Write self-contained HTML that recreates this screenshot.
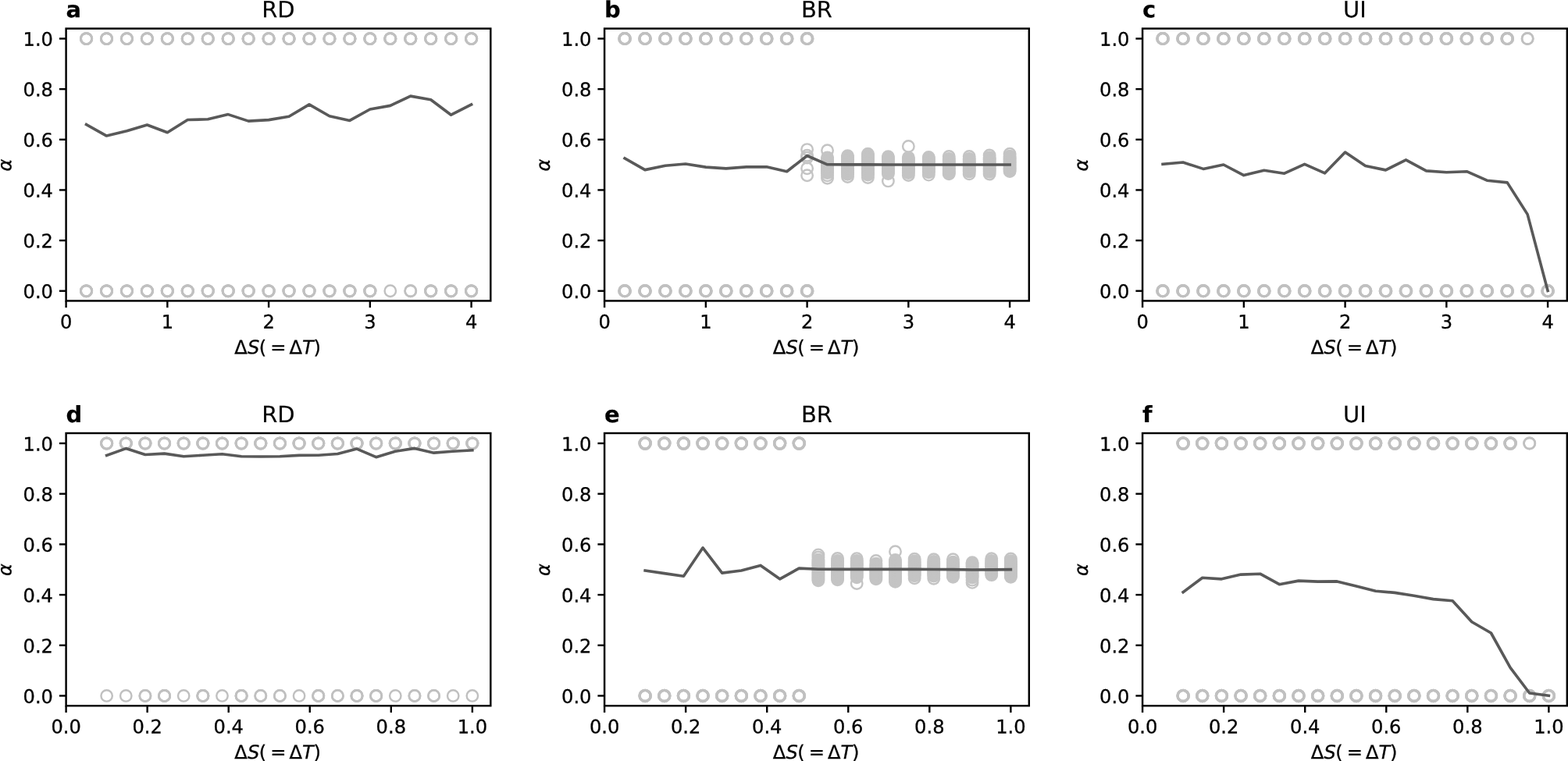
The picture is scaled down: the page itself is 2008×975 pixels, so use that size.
<!DOCTYPE html>
<html lang="en"><head><meta charset="utf-8"><title>Figure</title>
<style>html,body{margin:0;padding:0;background:#fff;}body{width:2008px;height:975px;overflow:hidden;}svg{display:block;}text{font-family:"DejaVu Sans","Liberation Sans",sans-serif;fill:#000;}.t{font-size:24.167px;}.tl{stroke:#000;stroke-width:0.3px;}.tt{font-size:29.000px;stroke:#000;stroke-width:0.15px;}.b{font-weight:bold;}.i{font-style:italic;}.sp{fill:none;stroke:#000;stroke-width:2.450;stroke-linecap:square;}.tk{stroke:#000;stroke-width:2.400;fill:none;}.ln{fill:none;stroke:#595959;stroke-width:3.625;stroke-linecap:square;stroke-linejoin:round;}.m circle{fill:none;stroke:#c0c0c0;}.c circle{fill:none;stroke:#c4c4c4;stroke-width:2.417;}</style></head><body>
<svg width="2008" height="975" viewBox="0 0 2008 975" role="img" aria-label="Six-panel figure: alpha versus Delta S for RD, BR and UI">
<rect x="0" y="0" width="2008" height="975" fill="#fff"/>
<g id="panel-a">
<g class="m" stroke-width="2.95">
<circle cx="110.55" cy="49.5" r="7.1"/><circle cx="136.5" cy="49.5" r="7.1"/><circle cx="162.45" cy="49.5" r="7.1"/><circle cx="188.4" cy="49.5" r="7.1"/><circle cx="214.35" cy="49.5" r="7.1"/><circle cx="240.3" cy="49.5" r="7.1"/><circle cx="266.25" cy="49.5" r="7.1"/><circle cx="292.2" cy="49.5" r="7.1"/><circle cx="318.15" cy="49.5" r="7.1"/><circle cx="344.1" cy="49.5" r="7.1"/><circle cx="370.05" cy="49.5" r="7.1"/><circle cx="396" cy="49.5" r="7.1"/><circle cx="421.95" cy="49.5" r="7.1"/><circle cx="447.9" cy="49.5" r="7.1"/><circle cx="473.85" cy="49.5" r="7.1"/><circle cx="499.8" cy="49.5" r="7.1"/><circle cx="525.75" cy="49.5" r="7.1"/><circle cx="551.7" cy="49.5" r="7.1"/><circle cx="577.65" cy="49.5" r="7.1"/><circle cx="603.6" cy="49.5" r="7.1"/>
<circle cx="110.55" cy="49.5" r="7.1"/><circle cx="136.5" cy="49.5" r="7.1"/><circle cx="162.45" cy="49.5" r="7.1"/><circle cx="188.4" cy="49.5" r="7.1"/><circle cx="214.35" cy="49.5" r="7.1"/><circle cx="240.3" cy="49.5" r="7.1"/><circle cx="266.25" cy="49.5" r="7.1"/><circle cx="292.2" cy="49.5" r="7.1"/><circle cx="318.15" cy="49.5" r="7.1"/><circle cx="344.1" cy="49.5" r="7.1"/><circle cx="370.05" cy="49.5" r="7.1"/><circle cx="396" cy="49.5" r="7.1"/><circle cx="421.95" cy="49.5" r="7.1"/><circle cx="447.9" cy="49.5" r="7.1"/><circle cx="473.85" cy="49.5" r="7.1"/><circle cx="499.8" cy="49.5" r="7.1"/><circle cx="525.75" cy="49.5" r="7.1"/><circle cx="551.7" cy="49.5" r="7.1"/><circle cx="577.65" cy="49.5" r="7.1"/><circle cx="603.6" cy="49.5" r="7.1"/>
<circle cx="110.55" cy="49.5" r="7.1"/><circle cx="136.5" cy="49.5" r="7.1"/><circle cx="162.45" cy="49.5" r="7.1"/><circle cx="188.4" cy="49.5" r="7.1"/><circle cx="214.35" cy="49.5" r="7.1"/><circle cx="240.3" cy="49.5" r="7.1"/><circle cx="266.25" cy="49.5" r="7.1"/><circle cx="292.2" cy="49.5" r="7.1"/><circle cx="318.15" cy="49.5" r="7.1"/><circle cx="344.1" cy="49.5" r="7.1"/><circle cx="370.05" cy="49.5" r="7.1"/><circle cx="396" cy="49.5" r="7.1"/><circle cx="421.95" cy="49.5" r="7.1"/><circle cx="447.9" cy="49.5" r="7.1"/><circle cx="473.85" cy="49.5" r="7.1"/><circle cx="499.8" cy="49.5" r="7.1"/><circle cx="525.75" cy="49.5" r="7.1"/><circle cx="551.7" cy="49.5" r="7.1"/><circle cx="577.65" cy="49.5" r="7.1"/><circle cx="603.6" cy="49.5" r="7.1"/>
</g>
<g class="m" stroke-width="2.42">
<circle cx="499.8" cy="372.75" r="7.2"/>
</g>
<g class="m" stroke-width="2.6">
<circle cx="525.75" cy="372.75" r="7.15"/>
<circle cx="525.75" cy="372.75" r="7.15"/>
</g>
<g class="m" stroke-width="2.95">
<circle cx="110.55" cy="372.75" r="7.1"/><circle cx="136.5" cy="372.75" r="7.1"/><circle cx="162.45" cy="372.75" r="7.1"/><circle cx="188.4" cy="372.75" r="7.1"/><circle cx="214.35" cy="372.75" r="7.1"/><circle cx="240.3" cy="372.75" r="7.1"/><circle cx="266.25" cy="372.75" r="7.1"/><circle cx="292.2" cy="372.75" r="7.1"/><circle cx="318.15" cy="372.75" r="7.1"/><circle cx="344.1" cy="372.75" r="7.1"/><circle cx="370.05" cy="372.75" r="7.1"/><circle cx="396" cy="372.75" r="7.1"/><circle cx="421.95" cy="372.75" r="7.1"/><circle cx="447.9" cy="372.75" r="7.1"/><circle cx="473.85" cy="372.75" r="7.1"/><circle cx="551.7" cy="372.75" r="7.1"/><circle cx="577.65" cy="372.75" r="7.1"/><circle cx="603.6" cy="372.75" r="7.1"/>
<circle cx="110.55" cy="372.75" r="7.1"/><circle cx="136.5" cy="372.75" r="7.1"/><circle cx="162.45" cy="372.75" r="7.1"/><circle cx="188.4" cy="372.75" r="7.1"/><circle cx="214.35" cy="372.75" r="7.1"/><circle cx="240.3" cy="372.75" r="7.1"/><circle cx="266.25" cy="372.75" r="7.1"/><circle cx="292.2" cy="372.75" r="7.1"/><circle cx="318.15" cy="372.75" r="7.1"/><circle cx="344.1" cy="372.75" r="7.1"/><circle cx="370.05" cy="372.75" r="7.1"/><circle cx="396" cy="372.75" r="7.1"/><circle cx="421.95" cy="372.75" r="7.1"/><circle cx="447.9" cy="372.75" r="7.1"/><circle cx="473.85" cy="372.75" r="7.1"/><circle cx="551.7" cy="372.75" r="7.1"/><circle cx="577.65" cy="372.75" r="7.1"/><circle cx="603.6" cy="372.75" r="7.1"/>
<circle cx="110.55" cy="372.75" r="7.1"/><circle cx="136.5" cy="372.75" r="7.1"/><circle cx="162.45" cy="372.75" r="7.1"/><circle cx="188.4" cy="372.75" r="7.1"/><circle cx="214.35" cy="372.75" r="7.1"/><circle cx="240.3" cy="372.75" r="7.1"/><circle cx="266.25" cy="372.75" r="7.1"/><circle cx="292.2" cy="372.75" r="7.1"/><circle cx="318.15" cy="372.75" r="7.1"/><circle cx="344.1" cy="372.75" r="7.1"/><circle cx="370.05" cy="372.75" r="7.1"/><circle cx="396" cy="372.75" r="7.1"/><circle cx="421.95" cy="372.75" r="7.1"/><circle cx="447.9" cy="372.75" r="7.1"/><circle cx="473.85" cy="372.75" r="7.1"/><circle cx="551.7" cy="372.75" r="7.1"/><circle cx="577.65" cy="372.75" r="7.1"/><circle cx="603.6" cy="372.75" r="7.1"/>
</g>
<polyline class="ln" points="110.55,159.5 136.5,174.05 162.45,167.7 188.4,160 214.35,169.7 240.3,153.5 266.25,152.8 292.2,146.6 318.15,155.1 344.1,153.6 370.05,149.3 396,133.9 421.95,148.7 447.9,154.4 473.85,140 499.8,135.4 525.75,123.1 551.7,127.7 577.65,147.2 603.6,133.85"/>
<g class="tk">
<line x1="84.6" y1="385.45" x2="84.6" y2="394.15"/><line x1="214.35" y1="385.45" x2="214.35" y2="394.15"/><line x1="344.1" y1="385.45" x2="344.1" y2="394.15"/><line x1="473.85" y1="385.45" x2="473.85" y2="394.15"/><line x1="603.6" y1="385.45" x2="603.6" y2="394.15"/>
<line x1="84.6" y1="372.75" x2="75.9" y2="372.75"/><line x1="84.6" y1="308.1" x2="75.9" y2="308.1"/><line x1="84.6" y1="243.45" x2="75.9" y2="243.45"/><line x1="84.6" y1="178.8" x2="75.9" y2="178.8"/><line x1="84.6" y1="114.15" x2="75.9" y2="114.15"/><line x1="84.6" y1="49.5" x2="75.9" y2="49.5"/>
</g>
<rect class="sp" x="84.6" y="36.6" width="543.7" height="348.85"/>
<text class="t tl" transform="matrix(1 0.001 0 1 84.6 420.65)" text-anchor="middle">0</text>
<text class="t tl" transform="matrix(1 0.001 0 1 214.35 420.65)" text-anchor="middle">1</text>
<text class="t tl" transform="matrix(1 0.001 0 1 344.1 420.65)" text-anchor="middle">2</text>
<text class="t tl" transform="matrix(1 0.001 0 1 473.85 420.65)" text-anchor="middle">3</text>
<text class="t tl" transform="matrix(1 0.001 0 1 603.6 420.65)" text-anchor="middle">4</text>
<text class="t tl" transform="matrix(1 0.001 0 1 67.98 381.95)" text-anchor="end">0.0</text>
<text class="t tl" transform="matrix(1 0.001 0 1 67.98 317.3)" text-anchor="end">0.2</text>
<text class="t tl" transform="matrix(1 0.001 0 1 67.98 252.65)" text-anchor="end">0.4</text>
<text class="t tl" transform="matrix(1 0.001 0 1 67.98 188)" text-anchor="end">0.6</text>
<text class="t tl" transform="matrix(1 0.001 0 1 67.98 123.35)" text-anchor="end">0.8</text>
<text class="t tl" transform="matrix(1 0.001 0 1 67.98 58.7)" text-anchor="end">1.0</text>
<text class="tt" transform="matrix(1 0.001 0 1 356.45 22.15)" text-anchor="middle">RD</text>
<text class="tt b" transform="matrix(1 0.001 0 1 84.6 22.15)">a</text>
<text class="t tl" transform="matrix(1 0.001 0 1 356.45 453.25)"><tspan x="-56.25">Δ</tspan><tspan x="-39.55" class="i">S</tspan><tspan x="-24.65">(</tspan><tspan x="-10.25">=</tspan><tspan x="13.95">Δ</tspan><tspan x="30.55" class="i">T</tspan><tspan x="44.95">)</tspan></text>
<text class="t i tl" transform="matrix(0.001 -1 1 0 14.4 211.53)" text-anchor="middle">α</text>
</g>
<g id="panel-b">
<g class="m" stroke-width="2.9">
<circle cx="799.7" cy="49.5" r="7.05"/><circle cx="825.65" cy="49.5" r="7.05"/><circle cx="851.6" cy="49.5" r="7.05"/><circle cx="877.55" cy="49.5" r="7.05"/><circle cx="903.5" cy="49.5" r="7.05"/><circle cx="929.45" cy="49.5" r="7.05"/><circle cx="955.4" cy="49.5" r="7.05"/><circle cx="981.35" cy="49.5" r="7.05"/><circle cx="1007.3" cy="49.5" r="7.05"/><circle cx="1033.25" cy="49.5" r="7.05"/>
<circle cx="800.4" cy="49.5" r="7.05"/><circle cx="826.35" cy="49.5" r="7.05"/><circle cx="852.3" cy="49.5" r="7.05"/><circle cx="878.25" cy="49.5" r="7.05"/><circle cx="904.2" cy="49.5" r="7.05"/><circle cx="930.15" cy="49.5" r="7.05"/><circle cx="956.1" cy="49.5" r="7.05"/><circle cx="982.05" cy="49.5" r="7.05"/><circle cx="1008" cy="49.5" r="7.05"/><circle cx="1033.95" cy="49.5" r="7.05"/>
<circle cx="799.7" cy="49.5" r="7.05"/><circle cx="825.65" cy="49.5" r="7.05"/><circle cx="851.6" cy="49.5" r="7.05"/><circle cx="877.55" cy="49.5" r="7.05"/><circle cx="903.5" cy="49.5" r="7.05"/><circle cx="929.45" cy="49.5" r="7.05"/><circle cx="955.4" cy="49.5" r="7.05"/><circle cx="981.35" cy="49.5" r="7.05"/><circle cx="1007.3" cy="49.5" r="7.05"/><circle cx="1033.25" cy="49.5" r="7.05"/>
<circle cx="800.4" cy="49.5" r="7.05"/><circle cx="826.35" cy="49.5" r="7.05"/><circle cx="852.3" cy="49.5" r="7.05"/><circle cx="878.25" cy="49.5" r="7.05"/><circle cx="904.2" cy="49.5" r="7.05"/><circle cx="930.15" cy="49.5" r="7.05"/><circle cx="956.1" cy="49.5" r="7.05"/><circle cx="982.05" cy="49.5" r="7.05"/><circle cx="1008" cy="49.5" r="7.05"/><circle cx="1033.95" cy="49.5" r="7.05"/>
</g>
<g class="m" stroke-width="2.9">
<circle cx="799.7" cy="372.75" r="7.05"/><circle cx="825.65" cy="372.75" r="7.05"/><circle cx="851.6" cy="372.75" r="7.05"/><circle cx="877.55" cy="372.75" r="7.05"/><circle cx="903.5" cy="372.75" r="7.05"/><circle cx="929.45" cy="372.75" r="7.05"/><circle cx="955.4" cy="372.75" r="7.05"/><circle cx="981.35" cy="372.75" r="7.05"/><circle cx="1007.3" cy="372.75" r="7.05"/><circle cx="1033.25" cy="372.75" r="7.05"/>
<circle cx="800.4" cy="372.75" r="7.05"/><circle cx="826.35" cy="372.75" r="7.05"/><circle cx="852.3" cy="372.75" r="7.05"/><circle cx="878.25" cy="372.75" r="7.05"/><circle cx="904.2" cy="372.75" r="7.05"/><circle cx="930.15" cy="372.75" r="7.05"/><circle cx="956.1" cy="372.75" r="7.05"/><circle cx="982.05" cy="372.75" r="7.05"/><circle cx="1008" cy="372.75" r="7.05"/><circle cx="1033.95" cy="372.75" r="7.05"/>
<circle cx="799.7" cy="372.75" r="7.05"/><circle cx="825.65" cy="372.75" r="7.05"/><circle cx="851.6" cy="372.75" r="7.05"/><circle cx="877.55" cy="372.75" r="7.05"/><circle cx="903.5" cy="372.75" r="7.05"/><circle cx="929.45" cy="372.75" r="7.05"/><circle cx="955.4" cy="372.75" r="7.05"/><circle cx="981.35" cy="372.75" r="7.05"/><circle cx="1007.3" cy="372.75" r="7.05"/><circle cx="1033.25" cy="372.75" r="7.05"/>
<circle cx="800.4" cy="372.75" r="7.05"/><circle cx="826.35" cy="372.75" r="7.05"/><circle cx="852.3" cy="372.75" r="7.05"/><circle cx="878.25" cy="372.75" r="7.05"/><circle cx="904.2" cy="372.75" r="7.05"/><circle cx="930.15" cy="372.75" r="7.05"/><circle cx="956.1" cy="372.75" r="7.05"/><circle cx="982.05" cy="372.75" r="7.05"/><circle cx="1008" cy="372.75" r="7.05"/><circle cx="1033.95" cy="372.75" r="7.05"/>
</g>
<g class="c">
<circle cx="1033.6" cy="191.6" r="7.25"/><circle cx="1033.6" cy="199.16" r="7.25"/><circle cx="1033.6" cy="202.07" r="7.25"/><circle cx="1033.6" cy="215.81" r="7.25"/><circle cx="1033.6" cy="224.7" r="7.25"/>
<circle cx="1059.55" cy="192.7" r="7.25"/><circle cx="1059.55" cy="228.26" r="7.25"/><circle cx="1059.55" cy="224.86" r="7.25"/><circle cx="1059.55" cy="221.63" r="7.25"/><circle cx="1059.55" cy="219.98" r="7.25"/><circle cx="1059.55" cy="218.33" r="7.25"/><circle cx="1059.55" cy="216.68" r="7.25"/><circle cx="1059.55" cy="215.04" r="7.25"/><circle cx="1059.55" cy="213.39" r="7.25"/><circle cx="1059.55" cy="211.74" r="7.25"/><circle cx="1059.55" cy="210.09" r="7.25"/><circle cx="1059.55" cy="208.44" r="7.25"/><circle cx="1059.55" cy="206.79" r="7.25"/><circle cx="1059.55" cy="205.14" r="7.25"/><circle cx="1059.55" cy="203.5" r="7.25"/><circle cx="1059.55" cy="201.85" r="7.25"/>
<circle cx="1085.5" cy="226.54" r="7.25"/><circle cx="1085.5" cy="223.25" r="7.25"/><circle cx="1085.5" cy="221.56" r="7.25"/><circle cx="1085.5" cy="219.87" r="7.25"/><circle cx="1085.5" cy="218.18" r="7.25"/><circle cx="1085.5" cy="216.5" r="7.25"/><circle cx="1085.5" cy="214.81" r="7.25"/><circle cx="1085.5" cy="213.12" r="7.25"/><circle cx="1085.5" cy="211.43" r="7.25"/><circle cx="1085.5" cy="209.74" r="7.25"/><circle cx="1085.5" cy="208.06" r="7.25"/><circle cx="1085.5" cy="206.37" r="7.25"/><circle cx="1085.5" cy="204.68" r="7.25"/><circle cx="1085.5" cy="202.99" r="7.25"/><circle cx="1085.5" cy="201.31" r="7.25"/><circle cx="1085.5" cy="199.62" r="7.25"/>
<circle cx="1111.45" cy="227.42" r="7.25"/><circle cx="1111.45" cy="224.06" r="7.25"/><circle cx="1111.45" cy="222.38" r="7.25"/><circle cx="1111.45" cy="220.71" r="7.25"/><circle cx="1111.45" cy="219.04" r="7.25"/><circle cx="1111.45" cy="217.37" r="7.25"/><circle cx="1111.45" cy="215.7" r="7.25"/><circle cx="1111.45" cy="214.03" r="7.25"/><circle cx="1111.45" cy="212.36" r="7.25"/><circle cx="1111.45" cy="210.69" r="7.25"/><circle cx="1111.45" cy="209.02" r="7.25"/><circle cx="1111.45" cy="207.35" r="7.25"/><circle cx="1111.45" cy="205.68" r="7.25"/><circle cx="1111.45" cy="204.01" r="7.25"/><circle cx="1111.45" cy="202.33" r="7.25"/><circle cx="1111.45" cy="200.66" r="7.25"/><circle cx="1111.45" cy="198.99" r="7.25"/><circle cx="1111.45" cy="197.32" r="7.25"/>
<circle cx="1137.4" cy="231.91" r="7.25"/><circle cx="1137.4" cy="222.44" r="7.25"/><circle cx="1137.4" cy="220.76" r="7.25"/><circle cx="1137.4" cy="219.08" r="7.25"/><circle cx="1137.4" cy="217.4" r="7.25"/><circle cx="1137.4" cy="215.73" r="7.25"/><circle cx="1137.4" cy="214.05" r="7.25"/><circle cx="1137.4" cy="212.37" r="7.25"/><circle cx="1137.4" cy="210.69" r="7.25"/><circle cx="1137.4" cy="209.01" r="7.25"/><circle cx="1137.4" cy="207.33" r="7.25"/><circle cx="1137.4" cy="205.65" r="7.25"/><circle cx="1137.4" cy="203.98" r="7.25"/><circle cx="1137.4" cy="202.3" r="7.25"/><circle cx="1137.4" cy="200.62" r="7.25"/>
<circle cx="1163.35" cy="187.53" r="7.25"/><circle cx="1163.35" cy="224.54" r="7.25"/><circle cx="1163.35" cy="221.63" r="7.25"/><circle cx="1163.35" cy="219.98" r="7.25"/><circle cx="1163.35" cy="218.33" r="7.25"/><circle cx="1163.35" cy="216.68" r="7.25"/><circle cx="1163.35" cy="215.04" r="7.25"/><circle cx="1163.35" cy="213.39" r="7.25"/><circle cx="1163.35" cy="211.74" r="7.25"/><circle cx="1163.35" cy="210.09" r="7.25"/><circle cx="1163.35" cy="208.44" r="7.25"/><circle cx="1163.35" cy="206.79" r="7.25"/><circle cx="1163.35" cy="205.14" r="7.25"/><circle cx="1163.35" cy="203.5" r="7.25"/><circle cx="1163.35" cy="201.85" r="7.25"/>
<circle cx="1189.3" cy="224.12" r="7.25"/><circle cx="1189.3" cy="220.82" r="7.25"/><circle cx="1189.3" cy="219.21" r="7.25"/><circle cx="1189.3" cy="217.59" r="7.25"/><circle cx="1189.3" cy="215.97" r="7.25"/><circle cx="1189.3" cy="214.36" r="7.25"/><circle cx="1189.3" cy="212.74" r="7.25"/><circle cx="1189.3" cy="211.12" r="7.25"/><circle cx="1189.3" cy="209.51" r="7.25"/><circle cx="1189.3" cy="207.89" r="7.25"/><circle cx="1189.3" cy="206.28" r="7.25"/><circle cx="1189.3" cy="204.66" r="7.25"/><circle cx="1189.3" cy="203.04" r="7.25"/><circle cx="1189.3" cy="201.43" r="7.25"/>
<circle cx="1215.25" cy="200.46" r="7.25"/><circle cx="1215.25" cy="222.89" r="7.25"/><circle cx="1215.25" cy="221.26" r="7.25"/><circle cx="1215.25" cy="219.64" r="7.25"/><circle cx="1215.25" cy="218.01" r="7.25"/><circle cx="1215.25" cy="216.38" r="7.25"/><circle cx="1215.25" cy="214.76" r="7.25"/><circle cx="1215.25" cy="213.13" r="7.25"/><circle cx="1215.25" cy="211.5" r="7.25"/><circle cx="1215.25" cy="209.88" r="7.25"/><circle cx="1215.25" cy="208.25" r="7.25"/><circle cx="1215.25" cy="206.62" r="7.25"/><circle cx="1215.25" cy="204.99" r="7.25"/><circle cx="1215.25" cy="203.37" r="7.25"/>
<circle cx="1241.2" cy="200.46" r="7.25"/><circle cx="1241.2" cy="222.89" r="7.25"/><circle cx="1241.2" cy="220.01" r="7.25"/><circle cx="1241.2" cy="218.35" r="7.25"/><circle cx="1241.2" cy="216.68" r="7.25"/><circle cx="1241.2" cy="215.02" r="7.25"/><circle cx="1241.2" cy="213.36" r="7.25"/><circle cx="1241.2" cy="211.69" r="7.25"/><circle cx="1241.2" cy="210.03" r="7.25"/><circle cx="1241.2" cy="208.36" r="7.25"/><circle cx="1241.2" cy="206.7" r="7.25"/><circle cx="1241.2" cy="205.03" r="7.25"/><circle cx="1241.2" cy="203.37" r="7.25"/>
<circle cx="1267.15" cy="199" r="7.25"/><circle cx="1267.15" cy="223.09" r="7.25"/><circle cx="1267.15" cy="220.18" r="7.25"/><circle cx="1267.15" cy="218.5" r="7.25"/><circle cx="1267.15" cy="216.83" r="7.25"/><circle cx="1267.15" cy="215.15" r="7.25"/><circle cx="1267.15" cy="213.48" r="7.25"/><circle cx="1267.15" cy="211.8" r="7.25"/><circle cx="1267.15" cy="210.13" r="7.25"/><circle cx="1267.15" cy="208.45" r="7.25"/><circle cx="1267.15" cy="206.78" r="7.25"/><circle cx="1267.15" cy="205.1" r="7.25"/><circle cx="1267.15" cy="203.43" r="7.25"/><circle cx="1267.15" cy="201.75" r="7.25"/>
<circle cx="1293.1" cy="197.32" r="7.25"/><circle cx="1293.1" cy="219.59" r="7.25"/><circle cx="1293.1" cy="217.97" r="7.25"/><circle cx="1293.1" cy="216.35" r="7.25"/><circle cx="1293.1" cy="214.73" r="7.25"/><circle cx="1293.1" cy="213.11" r="7.25"/><circle cx="1293.1" cy="211.49" r="7.25"/><circle cx="1293.1" cy="209.86" r="7.25"/><circle cx="1293.1" cy="208.24" r="7.25"/><circle cx="1293.1" cy="206.62" r="7.25"/><circle cx="1293.1" cy="205" r="7.25"/><circle cx="1293.1" cy="203.38" r="7.25"/><circle cx="1293.1" cy="201.76" r="7.25"/><circle cx="1293.1" cy="200.13" r="7.25"/>
</g>
<polyline class="ln" points="800.05,202.9 826,217.6 851.95,212.3 877.9,210.05 903.85,214.15 929.8,215.9 955.75,213.85 981.7,213.85 1007.65,219.7 1033.6,199.5 1059.55,210.8 1085.5,210.9 1111.45,210.9 1137.4,211 1163.35,211 1189.3,211 1215.25,211 1241.2,211 1267.15,211 1293.1,211"/>
<g class="tk">
<line x1="774.1" y1="385.45" x2="774.1" y2="394.15"/><line x1="903.85" y1="385.45" x2="903.85" y2="394.15"/><line x1="1033.6" y1="385.45" x2="1033.6" y2="394.15"/><line x1="1163.35" y1="385.45" x2="1163.35" y2="394.15"/><line x1="1293.1" y1="385.45" x2="1293.1" y2="394.15"/>
<line x1="774.1" y1="372.75" x2="765.4" y2="372.75"/><line x1="774.1" y1="308.1" x2="765.4" y2="308.1"/><line x1="774.1" y1="243.45" x2="765.4" y2="243.45"/><line x1="774.1" y1="178.8" x2="765.4" y2="178.8"/><line x1="774.1" y1="114.15" x2="765.4" y2="114.15"/><line x1="774.1" y1="49.5" x2="765.4" y2="49.5"/>
</g>
<rect class="sp" x="774.1" y="36.6" width="543.7" height="348.85"/>
<text class="t tl" transform="matrix(1 0.001 0 1 774.1 420.65)" text-anchor="middle">0</text>
<text class="t tl" transform="matrix(1 0.001 0 1 903.85 420.65)" text-anchor="middle">1</text>
<text class="t tl" transform="matrix(1 0.001 0 1 1033.6 420.65)" text-anchor="middle">2</text>
<text class="t tl" transform="matrix(1 0.001 0 1 1163.35 420.65)" text-anchor="middle">3</text>
<text class="t tl" transform="matrix(1 0.001 0 1 1293.1 420.65)" text-anchor="middle">4</text>
<text class="t tl" transform="matrix(1 0.001 0 1 757.48 381.95)" text-anchor="end">0.0</text>
<text class="t tl" transform="matrix(1 0.001 0 1 757.48 317.3)" text-anchor="end">0.2</text>
<text class="t tl" transform="matrix(1 0.001 0 1 757.48 252.65)" text-anchor="end">0.4</text>
<text class="t tl" transform="matrix(1 0.001 0 1 757.48 188)" text-anchor="end">0.6</text>
<text class="t tl" transform="matrix(1 0.001 0 1 757.48 123.35)" text-anchor="end">0.8</text>
<text class="t tl" transform="matrix(1 0.001 0 1 757.48 58.7)" text-anchor="end">1.0</text>
<text class="tt" transform="matrix(1 0.001 0 1 1045.95 22.15)" text-anchor="middle">BR</text>
<text class="tt b" transform="matrix(1 0.001 0 1 774.1 22.15)">b</text>
<text class="t tl" transform="matrix(1 0.001 0 1 1045.95 453.25)"><tspan x="-56.25">Δ</tspan><tspan x="-39.55" class="i">S</tspan><tspan x="-24.65">(</tspan><tspan x="-10.25">=</tspan><tspan x="13.95">Δ</tspan><tspan x="30.55" class="i">T</tspan><tspan x="44.95">)</tspan></text>
<text class="t i tl" transform="matrix(0.001 -1 1 0 703.9 211.53)" text-anchor="middle">α</text>
</g>
<g id="panel-c">
<g class="m" stroke-width="2.6">
<circle cx="1956.15" cy="49.5" r="7.15"/>
<circle cx="1956.15" cy="49.5" r="7.15"/>
</g>
<g class="m" stroke-width="2.9">
<circle cx="1488.7" cy="49.5" r="7.05"/><circle cx="1514.65" cy="49.5" r="7.05"/><circle cx="1540.6" cy="49.5" r="7.05"/><circle cx="1566.55" cy="49.5" r="7.05"/><circle cx="1592.5" cy="49.5" r="7.05"/><circle cx="1618.45" cy="49.5" r="7.05"/><circle cx="1644.4" cy="49.5" r="7.05"/><circle cx="1670.35" cy="49.5" r="7.05"/><circle cx="1696.3" cy="49.5" r="7.05"/><circle cx="1722.25" cy="49.5" r="7.05"/><circle cx="1748.2" cy="49.5" r="7.05"/><circle cx="1774.15" cy="49.5" r="7.05"/><circle cx="1800.1" cy="49.5" r="7.05"/><circle cx="1826.05" cy="49.5" r="7.05"/><circle cx="1852" cy="49.5" r="7.05"/><circle cx="1877.95" cy="49.5" r="7.05"/><circle cx="1903.9" cy="49.5" r="7.05"/><circle cx="1929.85" cy="49.5" r="7.05"/>
<circle cx="1489.4" cy="49.5" r="7.05"/><circle cx="1515.35" cy="49.5" r="7.05"/><circle cx="1541.3" cy="49.5" r="7.05"/><circle cx="1567.25" cy="49.5" r="7.05"/><circle cx="1593.2" cy="49.5" r="7.05"/><circle cx="1619.15" cy="49.5" r="7.05"/><circle cx="1645.1" cy="49.5" r="7.05"/><circle cx="1671.05" cy="49.5" r="7.05"/><circle cx="1697" cy="49.5" r="7.05"/><circle cx="1722.95" cy="49.5" r="7.05"/><circle cx="1748.9" cy="49.5" r="7.05"/><circle cx="1774.85" cy="49.5" r="7.05"/><circle cx="1800.8" cy="49.5" r="7.05"/><circle cx="1826.75" cy="49.5" r="7.05"/><circle cx="1852.7" cy="49.5" r="7.05"/><circle cx="1878.65" cy="49.5" r="7.05"/><circle cx="1904.6" cy="49.5" r="7.05"/><circle cx="1930.55" cy="49.5" r="7.05"/>
<circle cx="1488.7" cy="49.5" r="7.05"/><circle cx="1514.65" cy="49.5" r="7.05"/><circle cx="1540.6" cy="49.5" r="7.05"/><circle cx="1566.55" cy="49.5" r="7.05"/><circle cx="1592.5" cy="49.5" r="7.05"/><circle cx="1618.45" cy="49.5" r="7.05"/><circle cx="1644.4" cy="49.5" r="7.05"/><circle cx="1670.35" cy="49.5" r="7.05"/><circle cx="1696.3" cy="49.5" r="7.05"/><circle cx="1722.25" cy="49.5" r="7.05"/><circle cx="1748.2" cy="49.5" r="7.05"/><circle cx="1774.15" cy="49.5" r="7.05"/><circle cx="1800.1" cy="49.5" r="7.05"/><circle cx="1826.05" cy="49.5" r="7.05"/><circle cx="1852" cy="49.5" r="7.05"/><circle cx="1877.95" cy="49.5" r="7.05"/><circle cx="1903.9" cy="49.5" r="7.05"/><circle cx="1929.85" cy="49.5" r="7.05"/>
<circle cx="1489.4" cy="49.5" r="7.05"/><circle cx="1515.35" cy="49.5" r="7.05"/><circle cx="1541.3" cy="49.5" r="7.05"/><circle cx="1567.25" cy="49.5" r="7.05"/><circle cx="1593.2" cy="49.5" r="7.05"/><circle cx="1619.15" cy="49.5" r="7.05"/><circle cx="1645.1" cy="49.5" r="7.05"/><circle cx="1671.05" cy="49.5" r="7.05"/><circle cx="1697" cy="49.5" r="7.05"/><circle cx="1722.95" cy="49.5" r="7.05"/><circle cx="1748.9" cy="49.5" r="7.05"/><circle cx="1774.85" cy="49.5" r="7.05"/><circle cx="1800.8" cy="49.5" r="7.05"/><circle cx="1826.75" cy="49.5" r="7.05"/><circle cx="1852.7" cy="49.5" r="7.05"/><circle cx="1878.65" cy="49.5" r="7.05"/><circle cx="1904.6" cy="49.5" r="7.05"/><circle cx="1930.55" cy="49.5" r="7.05"/>
</g>
<g class="m" stroke-width="2.9">
<circle cx="1488.7" cy="372.75" r="7.05"/><circle cx="1514.65" cy="372.75" r="7.05"/><circle cx="1540.6" cy="372.75" r="7.05"/><circle cx="1566.55" cy="372.75" r="7.05"/><circle cx="1592.5" cy="372.75" r="7.05"/><circle cx="1618.45" cy="372.75" r="7.05"/><circle cx="1644.4" cy="372.75" r="7.05"/><circle cx="1670.35" cy="372.75" r="7.05"/><circle cx="1696.3" cy="372.75" r="7.05"/><circle cx="1722.25" cy="372.75" r="7.05"/><circle cx="1748.2" cy="372.75" r="7.05"/><circle cx="1774.15" cy="372.75" r="7.05"/><circle cx="1800.1" cy="372.75" r="7.05"/><circle cx="1826.05" cy="372.75" r="7.05"/><circle cx="1852" cy="372.75" r="7.05"/><circle cx="1877.95" cy="372.75" r="7.05"/><circle cx="1903.9" cy="372.75" r="7.05"/><circle cx="1929.85" cy="372.75" r="7.05"/><circle cx="1955.8" cy="372.75" r="7.05"/><circle cx="1981.75" cy="372.75" r="7.05"/>
<circle cx="1489.4" cy="372.75" r="7.05"/><circle cx="1515.35" cy="372.75" r="7.05"/><circle cx="1541.3" cy="372.75" r="7.05"/><circle cx="1567.25" cy="372.75" r="7.05"/><circle cx="1593.2" cy="372.75" r="7.05"/><circle cx="1619.15" cy="372.75" r="7.05"/><circle cx="1645.1" cy="372.75" r="7.05"/><circle cx="1671.05" cy="372.75" r="7.05"/><circle cx="1697" cy="372.75" r="7.05"/><circle cx="1722.95" cy="372.75" r="7.05"/><circle cx="1748.9" cy="372.75" r="7.05"/><circle cx="1774.85" cy="372.75" r="7.05"/><circle cx="1800.8" cy="372.75" r="7.05"/><circle cx="1826.75" cy="372.75" r="7.05"/><circle cx="1852.7" cy="372.75" r="7.05"/><circle cx="1878.65" cy="372.75" r="7.05"/><circle cx="1904.6" cy="372.75" r="7.05"/><circle cx="1930.55" cy="372.75" r="7.05"/><circle cx="1956.5" cy="372.75" r="7.05"/><circle cx="1982.45" cy="372.75" r="7.05"/>
<circle cx="1488.7" cy="372.75" r="7.05"/><circle cx="1514.65" cy="372.75" r="7.05"/><circle cx="1540.6" cy="372.75" r="7.05"/><circle cx="1566.55" cy="372.75" r="7.05"/><circle cx="1592.5" cy="372.75" r="7.05"/><circle cx="1618.45" cy="372.75" r="7.05"/><circle cx="1644.4" cy="372.75" r="7.05"/><circle cx="1670.35" cy="372.75" r="7.05"/><circle cx="1696.3" cy="372.75" r="7.05"/><circle cx="1722.25" cy="372.75" r="7.05"/><circle cx="1748.2" cy="372.75" r="7.05"/><circle cx="1774.15" cy="372.75" r="7.05"/><circle cx="1800.1" cy="372.75" r="7.05"/><circle cx="1826.05" cy="372.75" r="7.05"/><circle cx="1852" cy="372.75" r="7.05"/><circle cx="1877.95" cy="372.75" r="7.05"/><circle cx="1903.9" cy="372.75" r="7.05"/><circle cx="1929.85" cy="372.75" r="7.05"/><circle cx="1955.8" cy="372.75" r="7.05"/><circle cx="1981.75" cy="372.75" r="7.05"/>
<circle cx="1489.4" cy="372.75" r="7.05"/><circle cx="1515.35" cy="372.75" r="7.05"/><circle cx="1541.3" cy="372.75" r="7.05"/><circle cx="1567.25" cy="372.75" r="7.05"/><circle cx="1593.2" cy="372.75" r="7.05"/><circle cx="1619.15" cy="372.75" r="7.05"/><circle cx="1645.1" cy="372.75" r="7.05"/><circle cx="1671.05" cy="372.75" r="7.05"/><circle cx="1697" cy="372.75" r="7.05"/><circle cx="1722.95" cy="372.75" r="7.05"/><circle cx="1748.9" cy="372.75" r="7.05"/><circle cx="1774.85" cy="372.75" r="7.05"/><circle cx="1800.8" cy="372.75" r="7.05"/><circle cx="1826.75" cy="372.75" r="7.05"/><circle cx="1852.7" cy="372.75" r="7.05"/><circle cx="1878.65" cy="372.75" r="7.05"/><circle cx="1904.6" cy="372.75" r="7.05"/><circle cx="1930.55" cy="372.75" r="7.05"/><circle cx="1956.5" cy="372.75" r="7.05"/><circle cx="1982.45" cy="372.75" r="7.05"/>
</g>
<polyline class="ln" points="1489.05,210.3 1515,208 1540.95,216.4 1566.9,211 1592.85,224.6 1618.8,218.25 1644.75,222.2 1670.7,210.3 1696.65,221.8 1722.6,195.1 1748.55,212.55 1774.5,217.9 1800.45,204.9 1826.4,218.9 1852.35,220.8 1878.3,219.7 1904.25,231.2 1930.2,233.9 1956.15,274.6 1982.1,372.5"/>
<g class="tk">
<line x1="1463.1" y1="385.45" x2="1463.1" y2="394.15"/><line x1="1592.85" y1="385.45" x2="1592.85" y2="394.15"/><line x1="1722.6" y1="385.45" x2="1722.6" y2="394.15"/><line x1="1852.35" y1="385.45" x2="1852.35" y2="394.15"/><line x1="1982.1" y1="385.45" x2="1982.1" y2="394.15"/>
<line x1="1463.1" y1="372.75" x2="1454.4" y2="372.75"/><line x1="1463.1" y1="308.1" x2="1454.4" y2="308.1"/><line x1="1463.1" y1="243.45" x2="1454.4" y2="243.45"/><line x1="1463.1" y1="178.8" x2="1454.4" y2="178.8"/><line x1="1463.1" y1="114.15" x2="1454.4" y2="114.15"/><line x1="1463.1" y1="49.5" x2="1454.4" y2="49.5"/>
</g>
<rect class="sp" x="1463.1" y="36.6" width="543.7" height="348.85"/>
<text class="t tl" transform="matrix(1 0.001 0 1 1463.1 420.65)" text-anchor="middle">0</text>
<text class="t tl" transform="matrix(1 0.001 0 1 1592.85 420.65)" text-anchor="middle">1</text>
<text class="t tl" transform="matrix(1 0.001 0 1 1722.6 420.65)" text-anchor="middle">2</text>
<text class="t tl" transform="matrix(1 0.001 0 1 1852.35 420.65)" text-anchor="middle">3</text>
<text class="t tl" transform="matrix(1 0.001 0 1 1982.1 420.65)" text-anchor="middle">4</text>
<text class="t tl" transform="matrix(1 0.001 0 1 1446.48 381.95)" text-anchor="end">0.0</text>
<text class="t tl" transform="matrix(1 0.001 0 1 1446.48 317.3)" text-anchor="end">0.2</text>
<text class="t tl" transform="matrix(1 0.001 0 1 1446.48 252.65)" text-anchor="end">0.4</text>
<text class="t tl" transform="matrix(1 0.001 0 1 1446.48 188)" text-anchor="end">0.6</text>
<text class="t tl" transform="matrix(1 0.001 0 1 1446.48 123.35)" text-anchor="end">0.8</text>
<text class="t tl" transform="matrix(1 0.001 0 1 1446.48 58.7)" text-anchor="end">1.0</text>
<text class="tt" transform="matrix(1 0.001 0 1 1734.95 22.15)" text-anchor="middle">UI</text>
<text class="tt b" transform="matrix(1 0.001 0 1 1463.1 22.15)">c</text>
<text class="t tl" transform="matrix(1 0.001 0 1 1734.95 453.25)"><tspan x="-56.25">Δ</tspan><tspan x="-39.55" class="i">S</tspan><tspan x="-24.65">(</tspan><tspan x="-10.25">=</tspan><tspan x="13.95">Δ</tspan><tspan x="30.55" class="i">T</tspan><tspan x="44.95">)</tspan></text>
<text class="t i tl" transform="matrix(0.001 -1 1 0 1392.9 211.53)" text-anchor="middle">α</text>
</g>
<g id="panel-d">
<g class="m" stroke-width="2.95">
<circle cx="136.63" cy="568" r="7.1"/><circle cx="161.27" cy="568" r="7.1"/><circle cx="185.92" cy="568" r="7.1"/><circle cx="210.56" cy="568" r="7.1"/><circle cx="235.2" cy="568" r="7.1"/><circle cx="259.85" cy="568" r="7.1"/><circle cx="284.49" cy="568" r="7.1"/><circle cx="309.14" cy="568" r="7.1"/><circle cx="333.78" cy="568" r="7.1"/><circle cx="358.43" cy="568" r="7.1"/><circle cx="383.07" cy="568" r="7.1"/><circle cx="407.72" cy="568" r="7.1"/><circle cx="432.36" cy="568" r="7.1"/><circle cx="457" cy="568" r="7.1"/><circle cx="481.65" cy="568" r="7.1"/><circle cx="506.29" cy="568" r="7.1"/><circle cx="530.94" cy="568" r="7.1"/><circle cx="555.58" cy="568" r="7.1"/><circle cx="580.23" cy="568" r="7.1"/><circle cx="604.87" cy="568" r="7.1"/>
<circle cx="136.63" cy="568" r="7.1"/><circle cx="161.27" cy="568" r="7.1"/><circle cx="185.92" cy="568" r="7.1"/><circle cx="210.56" cy="568" r="7.1"/><circle cx="235.2" cy="568" r="7.1"/><circle cx="259.85" cy="568" r="7.1"/><circle cx="284.49" cy="568" r="7.1"/><circle cx="309.14" cy="568" r="7.1"/><circle cx="333.78" cy="568" r="7.1"/><circle cx="358.43" cy="568" r="7.1"/><circle cx="383.07" cy="568" r="7.1"/><circle cx="407.72" cy="568" r="7.1"/><circle cx="432.36" cy="568" r="7.1"/><circle cx="457" cy="568" r="7.1"/><circle cx="481.65" cy="568" r="7.1"/><circle cx="506.29" cy="568" r="7.1"/><circle cx="530.94" cy="568" r="7.1"/><circle cx="555.58" cy="568" r="7.1"/><circle cx="580.23" cy="568" r="7.1"/><circle cx="604.87" cy="568" r="7.1"/>
<circle cx="136.63" cy="568" r="7.1"/><circle cx="161.27" cy="568" r="7.1"/><circle cx="185.92" cy="568" r="7.1"/><circle cx="210.56" cy="568" r="7.1"/><circle cx="235.2" cy="568" r="7.1"/><circle cx="259.85" cy="568" r="7.1"/><circle cx="284.49" cy="568" r="7.1"/><circle cx="309.14" cy="568" r="7.1"/><circle cx="333.78" cy="568" r="7.1"/><circle cx="358.43" cy="568" r="7.1"/><circle cx="383.07" cy="568" r="7.1"/><circle cx="407.72" cy="568" r="7.1"/><circle cx="432.36" cy="568" r="7.1"/><circle cx="457" cy="568" r="7.1"/><circle cx="481.65" cy="568" r="7.1"/><circle cx="506.29" cy="568" r="7.1"/><circle cx="530.94" cy="568" r="7.1"/><circle cx="555.58" cy="568" r="7.1"/><circle cx="580.23" cy="568" r="7.1"/><circle cx="604.87" cy="568" r="7.1"/>
</g>
<g class="m" stroke-width="2.42">
<circle cx="136.63" cy="891.45" r="7.2"/><circle cx="161.27" cy="891.45" r="7.2"/><circle cx="235.2" cy="891.45" r="7.2"/><circle cx="284.49" cy="891.45" r="7.2"/><circle cx="383.07" cy="891.45" r="7.2"/><circle cx="506.29" cy="891.45" r="7.2"/><circle cx="580.23" cy="891.45" r="7.2"/><circle cx="604.87" cy="891.45" r="7.2"/>
</g>
<g class="m" stroke-width="2.6">
<circle cx="185.92" cy="891.45" r="7.15"/><circle cx="333.78" cy="891.45" r="7.15"/><circle cx="358.43" cy="891.45" r="7.15"/><circle cx="432.36" cy="891.45" r="7.15"/><circle cx="530.94" cy="891.45" r="7.15"/><circle cx="555.58" cy="891.45" r="7.15"/>
<circle cx="185.92" cy="891.45" r="7.15"/><circle cx="333.78" cy="891.45" r="7.15"/><circle cx="358.43" cy="891.45" r="7.15"/><circle cx="432.36" cy="891.45" r="7.15"/><circle cx="530.94" cy="891.45" r="7.15"/><circle cx="555.58" cy="891.45" r="7.15"/>
</g>
<g class="m" stroke-width="2.7">
<circle cx="210.56" cy="891.45" r="7.15"/><circle cx="259.85" cy="891.45" r="7.15"/><circle cx="309.14" cy="891.45" r="7.15"/><circle cx="407.72" cy="891.45" r="7.15"/><circle cx="457" cy="891.45" r="7.15"/><circle cx="481.65" cy="891.45" r="7.15"/>
<circle cx="210.56" cy="891.45" r="7.15"/><circle cx="259.85" cy="891.45" r="7.15"/><circle cx="309.14" cy="891.45" r="7.15"/><circle cx="407.72" cy="891.45" r="7.15"/><circle cx="457" cy="891.45" r="7.15"/><circle cx="481.65" cy="891.45" r="7.15"/>
<circle cx="210.56" cy="891.45" r="7.15"/><circle cx="259.85" cy="891.45" r="7.15"/><circle cx="309.14" cy="891.45" r="7.15"/><circle cx="407.72" cy="891.45" r="7.15"/><circle cx="457" cy="891.45" r="7.15"/><circle cx="481.65" cy="891.45" r="7.15"/>
</g>
<polyline class="ln" points="136.63,583.4 161.27,574.6 185.92,582.5 210.56,581.1 235.2,584.8 259.85,583.2 284.49,581.8 309.14,584.8 333.78,584.95 358.43,584.8 383.07,583.4 407.72,583.2 432.36,581.5 457,575.1 481.65,585.7 506.29,578.3 530.94,574.4 555.58,580.15 580.23,578.3 604.87,576.9"/>
<g class="tk">
<line x1="84.6" y1="904.25" x2="84.6" y2="912.95"/><line x1="188.65" y1="904.25" x2="188.65" y2="912.95"/><line x1="292.71" y1="904.25" x2="292.71" y2="912.95"/><line x1="396.76" y1="904.25" x2="396.76" y2="912.95"/><line x1="500.82" y1="904.25" x2="500.82" y2="912.95"/><line x1="604.87" y1="904.25" x2="604.87" y2="912.95"/>
<line x1="84.6" y1="891.45" x2="75.9" y2="891.45"/><line x1="84.6" y1="826.76" x2="75.9" y2="826.76"/><line x1="84.6" y1="762.07" x2="75.9" y2="762.07"/><line x1="84.6" y1="697.38" x2="75.9" y2="697.38"/><line x1="84.6" y1="632.69" x2="75.9" y2="632.69"/><line x1="84.6" y1="568" x2="75.9" y2="568"/>
</g>
<rect class="sp" x="84.6" y="555" width="543.7" height="349.25"/>
<text class="t tl" transform="matrix(1 0.001 0 1 84.6 939.45)" text-anchor="middle">0.0</text>
<text class="t tl" transform="matrix(1 0.001 0 1 188.65 939.45)" text-anchor="middle">0.2</text>
<text class="t tl" transform="matrix(1 0.001 0 1 292.71 939.45)" text-anchor="middle">0.4</text>
<text class="t tl" transform="matrix(1 0.001 0 1 396.76 939.45)" text-anchor="middle">0.6</text>
<text class="t tl" transform="matrix(1 0.001 0 1 500.82 939.45)" text-anchor="middle">0.8</text>
<text class="t tl" transform="matrix(1 0.001 0 1 604.87 939.45)" text-anchor="middle">1.0</text>
<text class="t tl" transform="matrix(1 0.001 0 1 67.98 900.9)" text-anchor="end">0.0</text>
<text class="t tl" transform="matrix(1 0.001 0 1 67.98 836.21)" text-anchor="end">0.2</text>
<text class="t tl" transform="matrix(1 0.001 0 1 67.98 771.52)" text-anchor="end">0.4</text>
<text class="t tl" transform="matrix(1 0.001 0 1 67.98 706.83)" text-anchor="end">0.6</text>
<text class="t tl" transform="matrix(1 0.001 0 1 67.98 642.14)" text-anchor="end">0.8</text>
<text class="t tl" transform="matrix(1 0.001 0 1 67.98 577.45)" text-anchor="end">1.0</text>
<text class="tt" transform="matrix(1 0.001 0 1 356.45 540.9)" text-anchor="middle">RD</text>
<text class="tt b" transform="matrix(1 0.001 0 1 84.6 540.9)">d</text>
<text class="t tl" transform="matrix(1 0.001 0 1 356.45 972.05)"><tspan x="-56.25">Δ</tspan><tspan x="-39.55" class="i">S</tspan><tspan x="-24.65">(</tspan><tspan x="-10.25">=</tspan><tspan x="13.95">Δ</tspan><tspan x="30.55" class="i">T</tspan><tspan x="44.95">)</tspan></text>
<text class="t i tl" transform="matrix(0.001 -1 1 0 14.4 730.12)" text-anchor="middle">α</text>
</g>
<g id="panel-e">
<g class="m" stroke-width="3.3">
<circle cx="826.13" cy="568" r="7.05"/><circle cx="850.77" cy="568" r="7.05"/><circle cx="875.42" cy="568" r="7.05"/><circle cx="900.06" cy="568" r="7.05"/><circle cx="924.7" cy="568" r="7.05"/><circle cx="949.35" cy="568" r="7.05"/><circle cx="973.99" cy="568" r="7.05"/><circle cx="998.64" cy="568" r="7.05"/><circle cx="1023.28" cy="568" r="7.05"/>
<circle cx="826.13" cy="568" r="7.05"/><circle cx="850.77" cy="568" r="7.05"/><circle cx="875.42" cy="568" r="7.05"/><circle cx="900.06" cy="568" r="7.05"/><circle cx="924.7" cy="568" r="7.05"/><circle cx="949.35" cy="568" r="7.05"/><circle cx="973.99" cy="568" r="7.05"/><circle cx="998.64" cy="568" r="7.05"/><circle cx="1023.28" cy="568" r="7.05"/>
<circle cx="826.13" cy="568" r="7.05"/><circle cx="850.77" cy="568" r="7.05"/><circle cx="875.42" cy="568" r="7.05"/><circle cx="900.06" cy="568" r="7.05"/><circle cx="924.7" cy="568" r="7.05"/><circle cx="949.35" cy="568" r="7.05"/><circle cx="973.99" cy="568" r="7.05"/><circle cx="998.64" cy="568" r="7.05"/><circle cx="1023.28" cy="568" r="7.05"/>
</g>
<g class="m" stroke-width="3.3">
<circle cx="826.13" cy="891.45" r="7.05"/><circle cx="850.77" cy="891.45" r="7.05"/><circle cx="875.42" cy="891.45" r="7.05"/><circle cx="900.06" cy="891.45" r="7.05"/><circle cx="924.7" cy="891.45" r="7.05"/><circle cx="949.35" cy="891.45" r="7.05"/><circle cx="973.99" cy="891.45" r="7.05"/><circle cx="998.64" cy="891.45" r="7.05"/><circle cx="1023.28" cy="891.45" r="7.05"/>
<circle cx="826.13" cy="891.45" r="7.05"/><circle cx="850.77" cy="891.45" r="7.05"/><circle cx="875.42" cy="891.45" r="7.05"/><circle cx="900.06" cy="891.45" r="7.05"/><circle cx="924.7" cy="891.45" r="7.05"/><circle cx="949.35" cy="891.45" r="7.05"/><circle cx="973.99" cy="891.45" r="7.05"/><circle cx="998.64" cy="891.45" r="7.05"/><circle cx="1023.28" cy="891.45" r="7.05"/>
<circle cx="826.13" cy="891.45" r="7.05"/><circle cx="850.77" cy="891.45" r="7.05"/><circle cx="875.42" cy="891.45" r="7.05"/><circle cx="900.06" cy="891.45" r="7.05"/><circle cx="924.7" cy="891.45" r="7.05"/><circle cx="949.35" cy="891.45" r="7.05"/><circle cx="973.99" cy="891.45" r="7.05"/><circle cx="998.64" cy="891.45" r="7.05"/><circle cx="1023.28" cy="891.45" r="7.05"/>
</g>
<g class="c">
<circle cx="1047.93" cy="710.87" r="7.25"/><circle cx="1047.93" cy="714.04" r="7.25"/><circle cx="1047.93" cy="743.8" r="7.25"/><circle cx="1047.93" cy="742.14" r="7.25"/><circle cx="1047.93" cy="740.48" r="7.25"/><circle cx="1047.93" cy="738.82" r="7.25"/><circle cx="1047.93" cy="737.16" r="7.25"/><circle cx="1047.93" cy="735.51" r="7.25"/><circle cx="1047.93" cy="733.85" r="7.25"/><circle cx="1047.93" cy="732.19" r="7.25"/><circle cx="1047.93" cy="730.53" r="7.25"/><circle cx="1047.93" cy="728.88" r="7.25"/><circle cx="1047.93" cy="727.22" r="7.25"/><circle cx="1047.93" cy="725.56" r="7.25"/><circle cx="1047.93" cy="723.9" r="7.25"/><circle cx="1047.93" cy="722.25" r="7.25"/><circle cx="1047.93" cy="720.59" r="7.25"/><circle cx="1047.93" cy="718.93" r="7.25"/><circle cx="1047.93" cy="717.27" r="7.25"/>
<circle cx="1072.57" cy="715.49" r="7.25"/><circle cx="1072.57" cy="742.79" r="7.25"/><circle cx="1072.57" cy="741.17" r="7.25"/><circle cx="1072.57" cy="739.54" r="7.25"/><circle cx="1072.57" cy="737.91" r="7.25"/><circle cx="1072.57" cy="736.29" r="7.25"/><circle cx="1072.57" cy="734.66" r="7.25"/><circle cx="1072.57" cy="733.04" r="7.25"/><circle cx="1072.57" cy="731.41" r="7.25"/><circle cx="1072.57" cy="729.79" r="7.25"/><circle cx="1072.57" cy="728.16" r="7.25"/><circle cx="1072.57" cy="726.53" r="7.25"/><circle cx="1072.57" cy="724.91" r="7.25"/><circle cx="1072.57" cy="723.28" r="7.25"/><circle cx="1072.57" cy="721.66" r="7.25"/><circle cx="1072.57" cy="720.03" r="7.25"/><circle cx="1072.57" cy="718.4" r="7.25"/>
<circle cx="1097.22" cy="747.42" r="7.25"/><circle cx="1097.22" cy="715.65" r="7.25"/><circle cx="1097.22" cy="739.75" r="7.25"/><circle cx="1097.22" cy="738.11" r="7.25"/><circle cx="1097.22" cy="736.47" r="7.25"/><circle cx="1097.22" cy="734.83" r="7.25"/><circle cx="1097.22" cy="733.18" r="7.25"/><circle cx="1097.22" cy="731.54" r="7.25"/><circle cx="1097.22" cy="729.9" r="7.25"/><circle cx="1097.22" cy="728.26" r="7.25"/><circle cx="1097.22" cy="726.61" r="7.25"/><circle cx="1097.22" cy="724.97" r="7.25"/><circle cx="1097.22" cy="723.33" r="7.25"/><circle cx="1097.22" cy="721.69" r="7.25"/><circle cx="1097.22" cy="720.05" r="7.25"/><circle cx="1097.22" cy="718.4" r="7.25"/>
<circle cx="1121.86" cy="718.57" r="7.25"/><circle cx="1121.86" cy="741.76" r="7.25"/><circle cx="1121.86" cy="740.12" r="7.25"/><circle cx="1121.86" cy="738.49" r="7.25"/><circle cx="1121.86" cy="736.85" r="7.25"/><circle cx="1121.86" cy="735.21" r="7.25"/><circle cx="1121.86" cy="733.58" r="7.25"/><circle cx="1121.86" cy="731.94" r="7.25"/><circle cx="1121.86" cy="730.3" r="7.25"/><circle cx="1121.86" cy="728.67" r="7.25"/><circle cx="1121.86" cy="727.03" r="7.25"/><circle cx="1121.86" cy="725.4" r="7.25"/><circle cx="1121.86" cy="723.76" r="7.25"/><circle cx="1121.86" cy="722.12" r="7.25"/>
<circle cx="1146.5" cy="706.76" r="7.25"/><circle cx="1146.5" cy="745.38" r="7.25"/><circle cx="1146.5" cy="743.74" r="7.25"/><circle cx="1146.5" cy="742.1" r="7.25"/><circle cx="1146.5" cy="740.47" r="7.25"/><circle cx="1146.5" cy="738.83" r="7.25"/><circle cx="1146.5" cy="737.19" r="7.25"/><circle cx="1146.5" cy="735.55" r="7.25"/><circle cx="1146.5" cy="733.91" r="7.25"/><circle cx="1146.5" cy="732.27" r="7.25"/><circle cx="1146.5" cy="730.64" r="7.25"/><circle cx="1146.5" cy="729" r="7.25"/><circle cx="1146.5" cy="727.36" r="7.25"/><circle cx="1146.5" cy="725.72" r="7.25"/><circle cx="1146.5" cy="724.08" r="7.25"/><circle cx="1146.5" cy="722.45" r="7.25"/><circle cx="1146.5" cy="720.81" r="7.25"/><circle cx="1146.5" cy="719.17" r="7.25"/><circle cx="1146.5" cy="717.53" r="7.25"/>
<circle cx="1171.15" cy="740.72" r="7.25"/><circle cx="1171.15" cy="716.3" r="7.25"/><circle cx="1171.15" cy="737.81" r="7.25"/><circle cx="1171.15" cy="736.25" r="7.25"/><circle cx="1171.15" cy="734.68" r="7.25"/><circle cx="1171.15" cy="733.12" r="7.25"/><circle cx="1171.15" cy="731.56" r="7.25"/><circle cx="1171.15" cy="729.99" r="7.25"/><circle cx="1171.15" cy="728.43" r="7.25"/><circle cx="1171.15" cy="726.87" r="7.25"/><circle cx="1171.15" cy="725.3" r="7.25"/><circle cx="1171.15" cy="723.74" r="7.25"/><circle cx="1171.15" cy="722.18" r="7.25"/><circle cx="1171.15" cy="720.61" r="7.25"/><circle cx="1171.15" cy="719.05" r="7.25"/>
<circle cx="1195.79" cy="741.27" r="7.25"/><circle cx="1195.79" cy="716.79" r="7.25"/><circle cx="1195.79" cy="737.97" r="7.25"/><circle cx="1195.79" cy="736.3" r="7.25"/><circle cx="1195.79" cy="734.62" r="7.25"/><circle cx="1195.79" cy="732.94" r="7.25"/><circle cx="1195.79" cy="731.27" r="7.25"/><circle cx="1195.79" cy="729.59" r="7.25"/><circle cx="1195.79" cy="727.92" r="7.25"/><circle cx="1195.79" cy="726.24" r="7.25"/><circle cx="1195.79" cy="724.56" r="7.25"/><circle cx="1195.79" cy="722.89" r="7.25"/><circle cx="1195.79" cy="721.21" r="7.25"/><circle cx="1195.79" cy="719.54" r="7.25"/>
<circle cx="1220.44" cy="716.79" r="7.25"/><circle cx="1220.44" cy="739.2" r="7.25"/><circle cx="1220.44" cy="737.62" r="7.25"/><circle cx="1220.44" cy="736.03" r="7.25"/><circle cx="1220.44" cy="734.45" r="7.25"/><circle cx="1220.44" cy="732.86" r="7.25"/><circle cx="1220.44" cy="731.28" r="7.25"/><circle cx="1220.44" cy="729.69" r="7.25"/><circle cx="1220.44" cy="728.11" r="7.25"/><circle cx="1220.44" cy="726.52" r="7.25"/><circle cx="1220.44" cy="724.94" r="7.25"/><circle cx="1220.44" cy="723.35" r="7.25"/><circle cx="1220.44" cy="721.77" r="7.25"/><circle cx="1220.44" cy="720.18" r="7.25"/>
<circle cx="1245.08" cy="746.38" r="7.25"/><circle cx="1245.08" cy="743.15" r="7.25"/><circle cx="1245.08" cy="740.08" r="7.25"/><circle cx="1245.08" cy="738.46" r="7.25"/><circle cx="1245.08" cy="736.84" r="7.25"/><circle cx="1245.08" cy="735.22" r="7.25"/><circle cx="1245.08" cy="733.61" r="7.25"/><circle cx="1245.08" cy="731.99" r="7.25"/><circle cx="1245.08" cy="730.37" r="7.25"/><circle cx="1245.08" cy="728.75" r="7.25"/><circle cx="1245.08" cy="727.14" r="7.25"/><circle cx="1245.08" cy="725.52" r="7.25"/><circle cx="1245.08" cy="723.9" r="7.25"/><circle cx="1245.08" cy="722.29" r="7.25"/><circle cx="1245.08" cy="720.67" r="7.25"/>
<circle cx="1269.73" cy="715.69" r="7.25"/><circle cx="1269.73" cy="736.65" r="7.25"/><circle cx="1269.73" cy="735" r="7.25"/><circle cx="1269.73" cy="733.36" r="7.25"/><circle cx="1269.73" cy="731.72" r="7.25"/><circle cx="1269.73" cy="730.07" r="7.25"/><circle cx="1269.73" cy="728.43" r="7.25"/><circle cx="1269.73" cy="726.78" r="7.25"/><circle cx="1269.73" cy="725.14" r="7.25"/><circle cx="1269.73" cy="723.5" r="7.25"/><circle cx="1269.73" cy="721.85" r="7.25"/><circle cx="1269.73" cy="720.21" r="7.25"/><circle cx="1269.73" cy="718.57" r="7.25"/>
<circle cx="1294.37" cy="715.98" r="7.25"/><circle cx="1294.37" cy="739.2" r="7.25"/><circle cx="1294.37" cy="737.63" r="7.25"/><circle cx="1294.37" cy="736.05" r="7.25"/><circle cx="1294.37" cy="734.48" r="7.25"/><circle cx="1294.37" cy="732.9" r="7.25"/><circle cx="1294.37" cy="731.33" r="7.25"/><circle cx="1294.37" cy="729.75" r="7.25"/><circle cx="1294.37" cy="728.18" r="7.25"/><circle cx="1294.37" cy="726.6" r="7.25"/><circle cx="1294.37" cy="725.03" r="7.25"/><circle cx="1294.37" cy="723.45" r="7.25"/><circle cx="1294.37" cy="721.88" r="7.25"/><circle cx="1294.37" cy="720.3" r="7.25"/><circle cx="1294.37" cy="718.73" r="7.25"/>
</g>
<polyline class="ln" points="826.13,731 850.77,734.6 875.42,738.2 900.06,701.8 924.7,734.1 949.35,731 973.99,724.4 998.64,741.8 1023.28,728.15 1047.93,729.3 1072.57,729.4 1097.22,729.4 1121.86,729.4 1146.5,729.4 1171.15,729.4 1195.79,729.5 1220.44,729.6 1245.08,730 1269.73,729.9 1294.37,729.6"/>
<g class="tk">
<line x1="774.1" y1="904.25" x2="774.1" y2="912.95"/><line x1="878.15" y1="904.25" x2="878.15" y2="912.95"/><line x1="982.21" y1="904.25" x2="982.21" y2="912.95"/><line x1="1086.26" y1="904.25" x2="1086.26" y2="912.95"/><line x1="1190.32" y1="904.25" x2="1190.32" y2="912.95"/><line x1="1294.37" y1="904.25" x2="1294.37" y2="912.95"/>
<line x1="774.1" y1="891.45" x2="765.4" y2="891.45"/><line x1="774.1" y1="826.76" x2="765.4" y2="826.76"/><line x1="774.1" y1="762.07" x2="765.4" y2="762.07"/><line x1="774.1" y1="697.38" x2="765.4" y2="697.38"/><line x1="774.1" y1="632.69" x2="765.4" y2="632.69"/><line x1="774.1" y1="568" x2="765.4" y2="568"/>
</g>
<rect class="sp" x="774.1" y="555" width="543.7" height="349.25"/>
<text class="t tl" transform="matrix(1 0.001 0 1 774.1 939.45)" text-anchor="middle">0.0</text>
<text class="t tl" transform="matrix(1 0.001 0 1 878.15 939.45)" text-anchor="middle">0.2</text>
<text class="t tl" transform="matrix(1 0.001 0 1 982.21 939.45)" text-anchor="middle">0.4</text>
<text class="t tl" transform="matrix(1 0.001 0 1 1086.26 939.45)" text-anchor="middle">0.6</text>
<text class="t tl" transform="matrix(1 0.001 0 1 1190.32 939.45)" text-anchor="middle">0.8</text>
<text class="t tl" transform="matrix(1 0.001 0 1 1294.37 939.45)" text-anchor="middle">1.0</text>
<text class="t tl" transform="matrix(1 0.001 0 1 757.48 900.9)" text-anchor="end">0.0</text>
<text class="t tl" transform="matrix(1 0.001 0 1 757.48 836.21)" text-anchor="end">0.2</text>
<text class="t tl" transform="matrix(1 0.001 0 1 757.48 771.52)" text-anchor="end">0.4</text>
<text class="t tl" transform="matrix(1 0.001 0 1 757.48 706.83)" text-anchor="end">0.6</text>
<text class="t tl" transform="matrix(1 0.001 0 1 757.48 642.14)" text-anchor="end">0.8</text>
<text class="t tl" transform="matrix(1 0.001 0 1 757.48 577.45)" text-anchor="end">1.0</text>
<text class="tt" transform="matrix(1 0.001 0 1 1045.95 540.9)" text-anchor="middle">BR</text>
<text class="tt b" transform="matrix(1 0.001 0 1 774.1 540.9)">e</text>
<text class="t tl" transform="matrix(1 0.001 0 1 1045.95 972.05)"><tspan x="-56.25">Δ</tspan><tspan x="-39.55" class="i">S</tspan><tspan x="-24.65">(</tspan><tspan x="-10.25">=</tspan><tspan x="13.95">Δ</tspan><tspan x="30.55" class="i">T</tspan><tspan x="44.95">)</tspan></text>
<text class="t i tl" transform="matrix(0.001 -1 1 0 703.9 730.12)" text-anchor="middle">α</text>
</g>
<g id="panel-f">
<g class="m" stroke-width="2.6">
<circle cx="1958.73" cy="568" r="7.15"/>
<circle cx="1958.73" cy="568" r="7.15"/>
</g>
<g class="m" stroke-width="3.3">
<circle cx="1515.13" cy="568" r="7.05"/><circle cx="1539.77" cy="568" r="7.05"/><circle cx="1564.42" cy="568" r="7.05"/><circle cx="1589.06" cy="568" r="7.05"/><circle cx="1613.7" cy="568" r="7.05"/><circle cx="1638.35" cy="568" r="7.05"/><circle cx="1662.99" cy="568" r="7.05"/><circle cx="1687.64" cy="568" r="7.05"/><circle cx="1712.28" cy="568" r="7.05"/><circle cx="1736.93" cy="568" r="7.05"/><circle cx="1761.57" cy="568" r="7.05"/><circle cx="1786.22" cy="568" r="7.05"/><circle cx="1810.86" cy="568" r="7.05"/><circle cx="1835.5" cy="568" r="7.05"/><circle cx="1860.15" cy="568" r="7.05"/><circle cx="1884.79" cy="568" r="7.05"/><circle cx="1909.44" cy="568" r="7.05"/><circle cx="1934.08" cy="568" r="7.05"/>
<circle cx="1515.13" cy="568" r="7.05"/><circle cx="1539.77" cy="568" r="7.05"/><circle cx="1564.42" cy="568" r="7.05"/><circle cx="1589.06" cy="568" r="7.05"/><circle cx="1613.7" cy="568" r="7.05"/><circle cx="1638.35" cy="568" r="7.05"/><circle cx="1662.99" cy="568" r="7.05"/><circle cx="1687.64" cy="568" r="7.05"/><circle cx="1712.28" cy="568" r="7.05"/><circle cx="1736.93" cy="568" r="7.05"/><circle cx="1761.57" cy="568" r="7.05"/><circle cx="1786.22" cy="568" r="7.05"/><circle cx="1810.86" cy="568" r="7.05"/><circle cx="1835.5" cy="568" r="7.05"/><circle cx="1860.15" cy="568" r="7.05"/><circle cx="1884.79" cy="568" r="7.05"/><circle cx="1909.44" cy="568" r="7.05"/><circle cx="1934.08" cy="568" r="7.05"/>
<circle cx="1515.13" cy="568" r="7.05"/><circle cx="1539.77" cy="568" r="7.05"/><circle cx="1564.42" cy="568" r="7.05"/><circle cx="1589.06" cy="568" r="7.05"/><circle cx="1613.7" cy="568" r="7.05"/><circle cx="1638.35" cy="568" r="7.05"/><circle cx="1662.99" cy="568" r="7.05"/><circle cx="1687.64" cy="568" r="7.05"/><circle cx="1712.28" cy="568" r="7.05"/><circle cx="1736.93" cy="568" r="7.05"/><circle cx="1761.57" cy="568" r="7.05"/><circle cx="1786.22" cy="568" r="7.05"/><circle cx="1810.86" cy="568" r="7.05"/><circle cx="1835.5" cy="568" r="7.05"/><circle cx="1860.15" cy="568" r="7.05"/><circle cx="1884.79" cy="568" r="7.05"/><circle cx="1909.44" cy="568" r="7.05"/><circle cx="1934.08" cy="568" r="7.05"/>
</g>
<g class="m" stroke-width="3.3">
<circle cx="1515.13" cy="891.45" r="7.05"/><circle cx="1539.77" cy="891.45" r="7.05"/><circle cx="1564.42" cy="891.45" r="7.05"/><circle cx="1589.06" cy="891.45" r="7.05"/><circle cx="1613.7" cy="891.45" r="7.05"/><circle cx="1638.35" cy="891.45" r="7.05"/><circle cx="1662.99" cy="891.45" r="7.05"/><circle cx="1687.64" cy="891.45" r="7.05"/><circle cx="1712.28" cy="891.45" r="7.05"/><circle cx="1736.93" cy="891.45" r="7.05"/><circle cx="1761.57" cy="891.45" r="7.05"/><circle cx="1786.22" cy="891.45" r="7.05"/><circle cx="1810.86" cy="891.45" r="7.05"/><circle cx="1835.5" cy="891.45" r="7.05"/><circle cx="1860.15" cy="891.45" r="7.05"/><circle cx="1884.79" cy="891.45" r="7.05"/><circle cx="1909.44" cy="891.45" r="7.05"/><circle cx="1934.08" cy="891.45" r="7.05"/><circle cx="1958.73" cy="891.45" r="7.05"/><circle cx="1983.37" cy="891.45" r="7.05"/>
<circle cx="1515.13" cy="891.45" r="7.05"/><circle cx="1539.77" cy="891.45" r="7.05"/><circle cx="1564.42" cy="891.45" r="7.05"/><circle cx="1589.06" cy="891.45" r="7.05"/><circle cx="1613.7" cy="891.45" r="7.05"/><circle cx="1638.35" cy="891.45" r="7.05"/><circle cx="1662.99" cy="891.45" r="7.05"/><circle cx="1687.64" cy="891.45" r="7.05"/><circle cx="1712.28" cy="891.45" r="7.05"/><circle cx="1736.93" cy="891.45" r="7.05"/><circle cx="1761.57" cy="891.45" r="7.05"/><circle cx="1786.22" cy="891.45" r="7.05"/><circle cx="1810.86" cy="891.45" r="7.05"/><circle cx="1835.5" cy="891.45" r="7.05"/><circle cx="1860.15" cy="891.45" r="7.05"/><circle cx="1884.79" cy="891.45" r="7.05"/><circle cx="1909.44" cy="891.45" r="7.05"/><circle cx="1934.08" cy="891.45" r="7.05"/><circle cx="1958.73" cy="891.45" r="7.05"/><circle cx="1983.37" cy="891.45" r="7.05"/>
<circle cx="1515.13" cy="891.45" r="7.05"/><circle cx="1539.77" cy="891.45" r="7.05"/><circle cx="1564.42" cy="891.45" r="7.05"/><circle cx="1589.06" cy="891.45" r="7.05"/><circle cx="1613.7" cy="891.45" r="7.05"/><circle cx="1638.35" cy="891.45" r="7.05"/><circle cx="1662.99" cy="891.45" r="7.05"/><circle cx="1687.64" cy="891.45" r="7.05"/><circle cx="1712.28" cy="891.45" r="7.05"/><circle cx="1736.93" cy="891.45" r="7.05"/><circle cx="1761.57" cy="891.45" r="7.05"/><circle cx="1786.22" cy="891.45" r="7.05"/><circle cx="1810.86" cy="891.45" r="7.05"/><circle cx="1835.5" cy="891.45" r="7.05"/><circle cx="1860.15" cy="891.45" r="7.05"/><circle cx="1884.79" cy="891.45" r="7.05"/><circle cx="1909.44" cy="891.45" r="7.05"/><circle cx="1934.08" cy="891.45" r="7.05"/><circle cx="1958.73" cy="891.45" r="7.05"/><circle cx="1983.37" cy="891.45" r="7.05"/>
</g>
<polyline class="ln" points="1515.13,758.7 1539.77,740.3 1564.42,741.85 1589.06,736.1 1613.7,735.2 1638.35,748.7 1662.99,744.1 1687.64,745.1 1712.28,744.9 1736.93,751 1761.57,757.2 1786.22,759.4 1810.86,763.3 1835.5,767.6 1860.15,769.7 1884.79,796.7 1909.44,811 1934.08,855.4 1958.73,888 1983.37,891.2"/>
<g class="tk">
<line x1="1463.1" y1="904.25" x2="1463.1" y2="912.95"/><line x1="1567.15" y1="904.25" x2="1567.15" y2="912.95"/><line x1="1671.21" y1="904.25" x2="1671.21" y2="912.95"/><line x1="1775.26" y1="904.25" x2="1775.26" y2="912.95"/><line x1="1879.32" y1="904.25" x2="1879.32" y2="912.95"/><line x1="1983.37" y1="904.25" x2="1983.37" y2="912.95"/>
<line x1="1463.1" y1="891.45" x2="1454.4" y2="891.45"/><line x1="1463.1" y1="826.76" x2="1454.4" y2="826.76"/><line x1="1463.1" y1="762.07" x2="1454.4" y2="762.07"/><line x1="1463.1" y1="697.38" x2="1454.4" y2="697.38"/><line x1="1463.1" y1="632.69" x2="1454.4" y2="632.69"/><line x1="1463.1" y1="568" x2="1454.4" y2="568"/>
</g>
<rect class="sp" x="1463.1" y="555" width="543.7" height="349.25"/>
<text class="t tl" transform="matrix(1 0.001 0 1 1463.1 939.45)" text-anchor="middle">0.0</text>
<text class="t tl" transform="matrix(1 0.001 0 1 1567.15 939.45)" text-anchor="middle">0.2</text>
<text class="t tl" transform="matrix(1 0.001 0 1 1671.21 939.45)" text-anchor="middle">0.4</text>
<text class="t tl" transform="matrix(1 0.001 0 1 1775.26 939.45)" text-anchor="middle">0.6</text>
<text class="t tl" transform="matrix(1 0.001 0 1 1879.32 939.45)" text-anchor="middle">0.8</text>
<text class="t tl" transform="matrix(1 0.001 0 1 1983.37 939.45)" text-anchor="middle">1.0</text>
<text class="t tl" transform="matrix(1 0.001 0 1 1446.48 900.9)" text-anchor="end">0.0</text>
<text class="t tl" transform="matrix(1 0.001 0 1 1446.48 836.21)" text-anchor="end">0.2</text>
<text class="t tl" transform="matrix(1 0.001 0 1 1446.48 771.52)" text-anchor="end">0.4</text>
<text class="t tl" transform="matrix(1 0.001 0 1 1446.48 706.83)" text-anchor="end">0.6</text>
<text class="t tl" transform="matrix(1 0.001 0 1 1446.48 642.14)" text-anchor="end">0.8</text>
<text class="t tl" transform="matrix(1 0.001 0 1 1446.48 577.45)" text-anchor="end">1.0</text>
<text class="tt" transform="matrix(1 0.001 0 1 1734.95 540.9)" text-anchor="middle">UI</text>
<text class="tt b" transform="matrix(1 0.001 0 1 1463.1 540.9)">f</text>
<text class="t tl" transform="matrix(1 0.001 0 1 1734.95 972.05)"><tspan x="-56.25">Δ</tspan><tspan x="-39.55" class="i">S</tspan><tspan x="-24.65">(</tspan><tspan x="-10.25">=</tspan><tspan x="13.95">Δ</tspan><tspan x="30.55" class="i">T</tspan><tspan x="44.95">)</tspan></text>
<text class="t i tl" transform="matrix(0.001 -1 1 0 1392.9 730.12)" text-anchor="middle">α</text>
</g>
</svg></body></html>
